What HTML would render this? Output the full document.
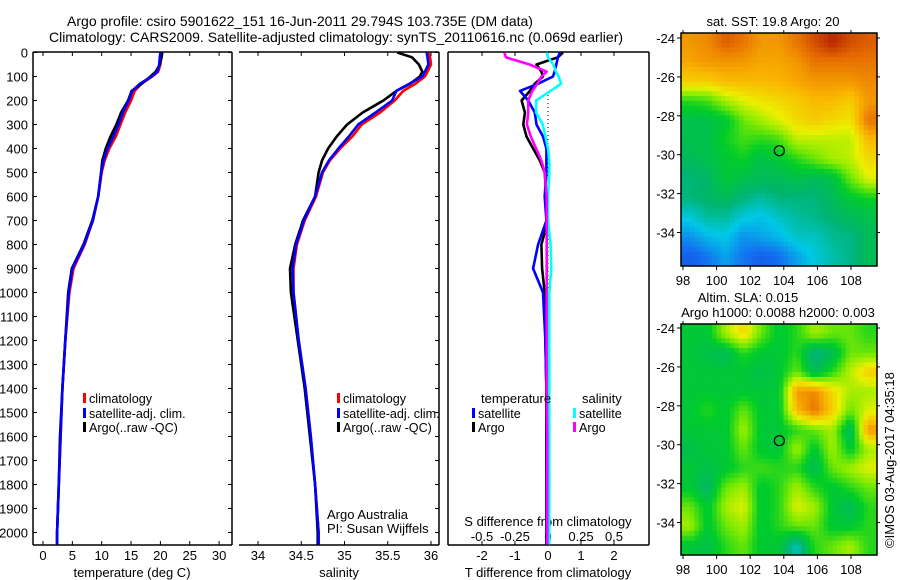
<!DOCTYPE html>
<html><head><meta charset="utf-8"><style>
html,body{margin:0;padding:0;background:#fff;}
svg{display:block;font-family:"Liberation Sans",sans-serif;}
</style></head><body>
<svg id="fig" width="900" height="580" viewBox="0 0 900 580" xmlns="http://www.w3.org/2000/svg">
<defs>
<clipPath id="c1"><rect x="33" y="52" width="199" height="493"/></clipPath>
<clipPath id="c2"><rect x="239" y="52" width="200" height="493"/></clipPath>
<clipPath id="c3"><rect x="448" y="52" width="201" height="493"/></clipPath>
</defs>
<text x="300" y="26" font-size="14" text-anchor="middle">Argo profile: csiro 5901622_151 16-Jun-2011 29.794S 103.735E (DM data)</text>
<text x="336" y="42" font-size="14" text-anchor="middle">Climatology: CARS2009. Satellite-adjusted climatology: synTS_20110616.nc (0.069d earlier)</text>
<g id="p1"></g>
<g id="p2"></g>
<g id="p3"></g>
<g id="m1"></g>
<g id="m2"></g>
<text x="773" y="26" font-size="13" text-anchor="middle">sat. SST: 19.8 Argo: 20</text>
<text x="748" y="302" font-size="13" text-anchor="middle">Altim. SLA: 0.015</text>
<text x="778" y="317" font-size="13" text-anchor="middle">Argo h1000: 0.0088 h2000: 0.003</text>
<text transform="translate(894,548) rotate(-90)" font-size="13">©IMOS 03-Aug-2017 04:35:18</text>
</svg>
<script>
// ---- data ----
const depths = [0,20,50,80,100,130,160,200,250,300,350,400,450,500,600,700,800,900,1000,1200,1400,1600,1800,2000,2050];
const tempClim = [20.1,20.1,20.0,19.6,18.6,16.8,15.6,15.0,14.0,13.2,12.4,11.3,10.5,10.0,9.4,8.5,7.1,5.2,4.5,3.8,3.3,3.0,2.7,2.4,2.4];
const tempSat  = [20.0,19.9,19.8,19.5,18.5,16.5,15.2,14.6,13.6,12.9,12.0,11.0,10.3,9.9,9.4,8.5,7.0,5.0,4.4,3.8,3.3,3.0,2.7,2.4,2.4];
const tempArgo = [20.3,20.2,19.9,19.2,18.3,16.8,15.1,14.5,13.3,12.5,11.5,10.7,10.1,9.9,9.4,8.4,6.9,4.9,4.3,3.8,3.3,2.9,2.7,2.4,2.4];
const salClim = [35.97,35.99,36.0,35.96,35.93,35.82,35.68,35.58,35.41,35.2,35.09,34.95,34.83,34.75,34.67,34.54,34.45,34.41,34.41,34.47,34.55,34.61,34.66,34.7,34.7];
const salSat  = [35.95,35.96,35.97,35.93,35.9,35.75,35.6,35.55,35.36,35.16,35.05,34.93,34.82,34.74,34.66,34.53,34.44,34.4,34.41,34.47,34.55,34.61,34.66,34.7,34.7];
const salArgo = [35.61,35.78,35.86,35.9,35.87,35.76,35.6,35.45,35.21,35.03,34.91,34.81,34.74,34.7,34.66,34.52,34.43,34.37,34.38,34.46,34.54,34.6,34.66,34.69,34.69];
const dTsat  = [0.36,0.3,0.25,0.2,0.15,-0.3,-0.85,-0.6,-0.4,-0.35,-0.15,-0.05,-0.05,-0.05,-0.1,-0.05,-0.3,-0.45,-0.15,-0.08,-0.05,-0.05,-0.05,-0.05,-0.05];
const dTargo = [0.45,0.3,-0.35,-0.2,-0.15,-0.4,-0.55,-0.8,-0.7,-0.75,-0.65,-0.45,-0.25,-0.1,-0.05,0.0,-0.2,-0.18,-0.1,-0.08,-0.05,-0.05,-0.04,-0.04,-0.04];
const dSargo = [-0.33,-0.32,-0.14,-0.01,-0.05,-0.08,-0.12,-0.15,-0.15,-0.16,-0.13,-0.09,-0.05,-0.025,-0.01,-0.01,-0.01,-0.01,-0.01,-0.01,-0.01,-0.005,-0.005,-0.005,-0.005];
const dSsat  = [-0.01,0.0,0.04,0.06,0.08,0.1,0.02,-0.09,-0.09,-0.04,-0.02,0.0,0.01,0.01,0.0,0.0,0.02,0.025,0.01,0.01,0.01,0.01,0.01,0.01,0.01];
const depthTicks = [0,100,200,300,400,500,600,700,800,900,1000,1100,1200,1300,1400,1500,1600,1700,1800,1900,2000];
const tempTicks = [0,5,10,15,20,25,30];
const salTicks = [34,34.5,35,35.5,36];
const salTickLabels = ["34","34.5","35","35.5","36"];
const dTTicks = [-2,-1,0,1,2];
const dSTicks = [-0.5,-0.25,0,0.25,0.5];
const dSTickLabels = ["-0.5","-0.25","0","0.25","0.5"];
const lonTicks = [98,100,102,104,106,108];
const latTicks = [-24,-26,-28,-30,-32,-34];
const sstGrid = [
[0.8,0.82,0.88,0.85,0.8,0.8,0.85,0.9,0.95,0.9,0.88],
[0.78,0.8,0.8,0.8,0.78,0.78,0.8,0.85,0.85,0.85,0.85],
[0.72,0.72,0.75,0.75,0.75,0.76,0.78,0.8,0.8,0.8,0.82],
[0.5,0.52,0.6,0.65,0.68,0.7,0.72,0.75,0.75,0.72,0.8],
[0.42,0.42,0.45,0.55,0.6,0.65,0.7,0.72,0.7,0.68,0.85],
[0.42,0.42,0.48,0.52,0.5,0.52,0.62,0.62,0.62,0.62,0.75],
[0.4,0.42,0.45,0.48,0.42,0.45,0.5,0.55,0.6,0.62,0.7],
[0.36,0.38,0.45,0.42,0.4,0.4,0.42,0.4,0.42,0.55,0.65],
[0.36,0.38,0.4,0.36,0.33,0.36,0.36,0.36,0.4,0.45,0.48],
[0.28,0.33,0.33,0.28,0.26,0.3,0.33,0.35,0.37,0.4,0.42],
[0.2,0.25,0.27,0.2,0.22,0.25,0.3,0.3,0.34,0.35,0.4],
[0.12,0.16,0.22,0.16,0.12,0.15,0.22,0.28,0.32,0.35,0.4]];
const slaGrid = [
[0.45,0.45,0.6,0.7,0.55,0.45,0.5,0.6,0.55,0.55,0.5],
[0.45,0.42,0.4,0.5,0.45,0.45,0.5,0.35,0.4,0.55,0.55],
[0.45,0.45,0.45,0.45,0.42,0.45,0.55,0.4,0.5,0.62,0.72],
[0.45,0.45,0.45,0.45,0.45,0.45,0.8,0.82,0.7,0.6,0.6],
[0.45,0.5,0.45,0.55,0.45,0.45,0.75,0.85,0.72,0.55,0.65],
[0.45,0.45,0.45,0.6,0.45,0.45,0.5,0.55,0.6,0.38,0.8],
[0.42,0.45,0.45,0.55,0.45,0.45,0.6,0.45,0.6,0.45,0.6],
[0.45,0.42,0.45,0.5,0.52,0.5,0.5,0.4,0.55,0.6,0.65],
[0.45,0.38,0.55,0.6,0.45,0.5,0.6,0.5,0.45,0.5,0.55],
[0.55,0.45,0.6,0.65,0.45,0.5,0.65,0.6,0.45,0.4,0.5],
[0.6,0.45,0.55,0.6,0.45,0.5,0.55,0.55,0.45,0.45,0.5],
[0.45,0.42,0.5,0.55,0.45,0.45,0.3,0.5,0.55,0.6,0.5]];
const argoLon = 103.735;
const argoLat = -29.794;

// ---- helpers ----
const NS = "http://www.w3.org/2000/svg";
function mk(parent, tag, attrs){const e=document.createElementNS(NS,tag);for(const k in attrs)e.setAttribute(k,attrs[k]);parent.appendChild(e);return e;}
const yD = d => 52.5 + d*0.24;
const xT = t => 43 + t*5.87;
const xS = s => 258 + (s-34)*86.5;
const xdT = v => 548 + v*33;
const xdS = v => 548 + v*132;

function frame(g, x0, x1, left){
  const top=52, bot=545;
  let e;
  e=mk(g,'line',{x1:x0,y1:top,x2:x1,y2:top,stroke:'#000','stroke-width':1.5});
  
  
  e=mk(g,'line',{x1:x0,y1:bot,x2:x1,y2:bot,stroke:'#000','stroke-width':1.5});
  
  
  if(left){e=mk(g,'line',{x1:x0,y1:top,x2:x0,y2:bot,stroke:'#000','stroke-width':1.5});
  
  }
  e=mk(g,'line',{x1:x1,y1:top,x2:x1,y2:bot,stroke:'#000','stroke-width':1.5});
  
  
}
function xticks(g, ticks, labels, fx, ty){
  ticks.forEach((t,i)=>{
    const x=fx(t);
    mk(g,'line',{x1:x,y1:52,x2:x,y2:56,stroke:'#000'});
    mk(g,'line',{x1:x,y1:545,x2:x,y2:541,stroke:'#000'});
    if(labels){const tx=mk(g,'text',{x:x,y:ty,'font-size':13,'text-anchor':'middle'});tx.textContent=labels[i];
    
    }
  });
}
function yticks(g, x, dir){
  depthTicks.forEach(d=>{mk(g,'line',{x1:x,y1:yD(d),x2:x+dir*4,y2:yD(d),stroke:'#000'});});
}
function line(g, xs, fx, color, name, clip){
  const pts = depths.map((d,i)=>fx(xs[i]).toFixed(1)+','+yD(d).toFixed(1)).join(' ');
  const p=mk(g,'polyline',{points:pts,fill:'none',stroke:color,'stroke-width':2.6,'stroke-linejoin':'round','clip-path':'url(#'+clip+')'});
  
  
}
function legendEntry(g,x,y,color,label){
  const r=mk(g,'rect',{x:x,y:y-10,width:3,height:10,fill:color});
  
  
  const t=mk(g,'text',{x:x+6,y:y,'font-size':12.6});t.textContent=label;
  
  
}
function txt(g,x,y,s,anchor,name,size){const t=mk(g,'text',{x:x,y:y,'font-size':size||13,'text-anchor':anchor||'start'});t.textContent=s;
  
  return t;}

// ---- panel 1 ----
const p1=document.getElementById('p1');
frame(p1,33,232,true);
yticks(p1,33,1); yticks(p1,232,-1);
depthTicks.forEach(d=>{txt(p1,28,yD(d)+5,String(d),'end','y-tick-label');});
xticks(p1,tempTicks,tempTicks.map(String),xT,560);
txt(p1,132,577,'temperature (deg C)','middle','x-axis-title-temperature');
line(p1,tempClim,xT,'#ff0000','temp-climatology-line','c1');
line(p1,tempArgo,xT,'#000000','temp-argo-line','c1');
line(p1,tempSat,xT,'#0000ff','temp-satellite-line','c1');
legendEntry(p1,83,403,'#ff0000','climatology');
legendEntry(p1,83,418,'#0000ff','satellite-adj. clim.');
legendEntry(p1,83,432,'#000000','Argo(..raw -QC)');

// ---- panel 2 ----
const p2=document.getElementById('p2');
frame(p2,239,439,false);
yticks(p2,439,-1);
xticks(p2,salTicks,salTickLabels,xS,560);
txt(p2,339,577,'salinity','middle','x-axis-title-salinity');
line(p2,salClim,xS,'#ff0000','sal-climatology-line','c2');
line(p2,salArgo,xS,'#000000','sal-argo-line','c2');
line(p2,salSat,xS,'#0000ff','sal-satellite-line','c2');
legendEntry(p2,337,403,'#ff0000','climatology');
legendEntry(p2,337,418,'#0000ff','satellite-adj. clim.');
legendEntry(p2,337,432,'#000000','Argo(..raw -QC)');
txt(p2,327,519,'Argo Australia','start','credit-argo-australia');
txt(p2,327,533,'PI: Susan Wijffels','start','credit-pi');

// ---- panel 3 ----
const p3=document.getElementById('p3');
frame(p3,448,649,true);
xticks(p3,dTTicks,dTTicks.map(String),xdT,560);
txt(p3,548,577,'T difference from climatology','middle','x-axis-title-t-diff');
dSTicks.forEach((s,i)=>{txt(p3,xdS(s),541,dSTickLabels[i],'middle','s-diff-tick-label');});
txt(p3,548,526,'S difference from climatology','middle','s-diff-axis-title');
const z=mk(p3,'line',{x1:548,y1:95,x2:548,y2:545,stroke:'#000','stroke-dasharray':'1,3'});


line(p3,dTargo,xdT,'#000000','t-diff-argo-line','c3');
line(p3,dTsat,xdT,'#0000ff','t-diff-satellite-line','c3');
line(p3,dSsat,xdS,'#00ffff','s-diff-satellite-line','c3');
line(p3,dSargo,xdS,'#ff00ff','s-diff-argo-line','c3');
txt(p3,481,403,'temperature','start','legend-temperature-header');
txt(p3,582,403,'salinity','start','legend-salinity-header');
legendEntry(p3,472,418,'#0000ff','satellite');
legendEntry(p3,573,418,'#00ffff','satellite');
legendEntry(p3,472,432,'#000000','Argo');
legendEntry(p3,573,432,'#ff00ff','Argo');

// ---- maps ----
const stops=[[0,[20,40,200]],[0.15,[20,110,240]],[0.27,[0,200,230]],[0.37,[0,180,110]],[0.47,[0,205,40]],[0.57,[130,235,0]],[0.66,[235,240,0]],[0.76,[250,180,0]],[0.86,[230,110,0]],[1,[160,0,0]]];
function cmap(v){for(let i=1;i<stops.length;i++){if(v<=stops[i][0]){const a=stops[i-1],b=stops[i],f=(v-a[0])/(b[0]-a[0]);return 'rgb('+a[1].map((c,k)=>Math.round(c+(b[1][k]-c)*f)).join(',')+')';}}return 'rgb(160,0,0)';}
function sample(grid, fr, fc){
  const rows=grid.length, cols=grid[0].length;
  const r=Math.max(0,Math.min(rows-1,fr)), c=Math.max(0,Math.min(cols-1,fc));
  const r0=Math.floor(r), c0=Math.floor(c), r1=Math.min(rows-1,r0+1), c1=Math.min(cols-1,c0+1);
  const a=r-r0, b=c-c0;
  return grid[r0][c0]*(1-a)*(1-b)+grid[r0][c1]*(1-a)*b+grid[r1][c0]*a*(1-b)+grid[r1][c1]*a*b;
}
function map(gid, grid, top, bot, lat24y, name){
  const g=document.getElementById(gid);
  const L=681,R=877;
  const rows=grid.length, cols=grid[0].length;
  const sub=4;
  const cw=(R-L)/(cols*sub), ch=(bot-top)/(rows*sub);
  for(let r=0;r<rows*sub;r++){for(let c=0;c<cols*sub;c++){
    const v=sample(grid,(r+0.5)/sub-0.5,(c+0.5)/sub-0.5);
    const e=mk(g,'rect',{x:(L+c*cw).toFixed(2),y:(top+r*ch).toFixed(2),width:(cw+0.4).toFixed(2),height:(ch+0.4).toFixed(2),fill:cmap(v)});
    
    
  }}
  const fr=mk(g,'rect',{x:L,y:top,width:R-L,height:bot-top,fill:'none',stroke:'#000','stroke-width':1.5});
  
  
  const xl=lon=>683+(lon-98)*16.8, yl=lat=>lat24y+(-24-lat)*19.45;
  lonTicks.forEach(l=>{const x=xl(l);mk(g,'line',{x1:x,y1:bot,x2:x,y2:bot+4,stroke:'#000'});mk(g,'line',{x1:x,y1:top,x2:x,y2:top-3,stroke:'#000'});
    txt(g,x,bot+19,String(l),'middle','lon-tick-label');});
  latTicks.forEach(l=>{const y=yl(l);mk(g,'line',{x1:L,y1:y,x2:L-4,y2:y,stroke:'#000'});mk(g,'line',{x1:R,y1:y,x2:R+3,y2:y,stroke:'#000'});
    txt(g,L-6,y+5,String(l),'end','lat-tick-label');});
  const c=mk(g,'circle',{cx:xl(argoLon),cy:yl(argoLat),r:5,fill:'none',stroke:'#000','stroke-width':1.2});
  
  
}
map('m1',sstGrid,33,266,38,'sst-map');
map('m2',slaGrid,324,555,328,'sla-map');
</script>
</body></html>
